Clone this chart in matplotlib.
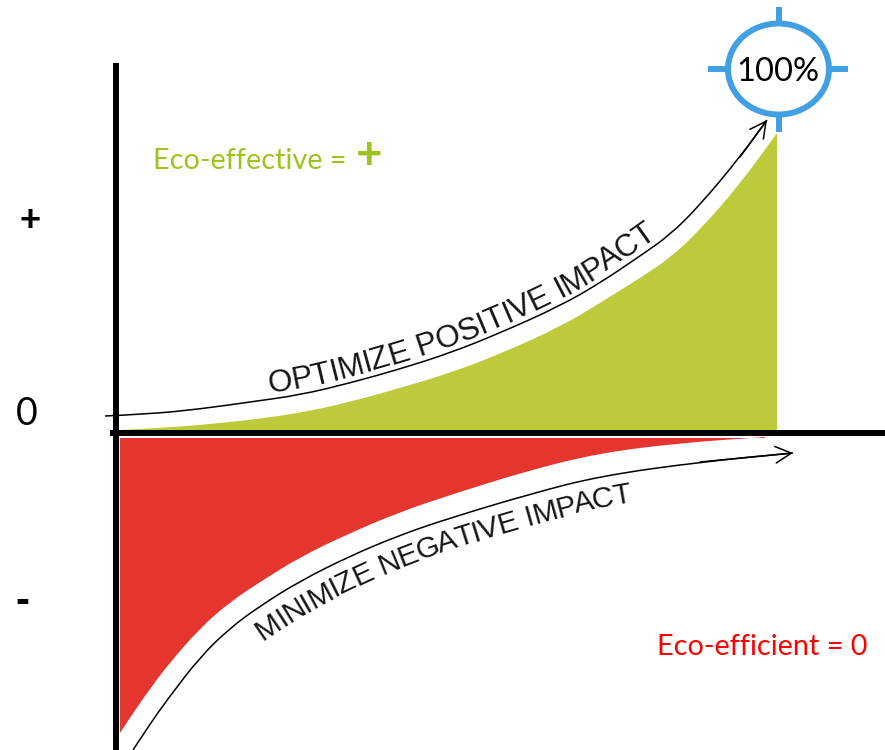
import numpy as np
import matplotlib
matplotlib.use("Agg")
import matplotlib.pyplot as plt
from matplotlib.patches import Ellipse, PathPatch
from matplotlib.path import Path
from matplotlib.font_manager import FontProperties

# curves, in pixels of the 885x750 canvas (y grows downward)
green_x = [120, 160, 200, 250, 300, 350, 400, 450, 500, 560, 600, 640, 670, 700, 740, 777]
green_top = [430, 428, 425, 420, 413, 402, 388, 373, 354, 327, 303, 278, 258, 230, 184, 133]

pos_arrow_x = [105, 150, 200, 250, 300, 350, 400, 450, 500, 560, 600, 640, 670, 700, 740, 767]
pos_arrow_y = [416, 414, 409, 402, 395, 383, 369, 353, 333, 306, 283, 256, 235, 205, 157, 120]

red_x = [120, 133, 150, 167, 200, 230, 260, 300, 350, 400, 450, 530, 600, 680, 765]
red_bottom = [733, 713, 689, 666, 628, 602, 582, 557, 533, 512, 495, 470, 453, 443, 437]

neg_arrow_x = [133, 150, 167, 200, 230, 260, 300, 350, 400, 450, 530, 600, 700, 793]
neg_arrow_y = [750, 724, 700, 657, 628, 606, 581, 556, 535, 518, 494, 476, 462, 453]

axis_labels = ["+", "0", "-"]
pos_label = "OPTIMIZE POSITIVE IMPACT"
neg_label = "MINIMIZE NEGATIVE IMPACT"
effective_label = "Eco-effective = "
efficient_label = "Eco-efficient = 0"
target_label = "100%"

GREEN = "#BDCA3C"
RED = "#E5352E"
GREEN_TEXT = "#9DC41C"
BLUE = "#41A0E4"

fig = plt.figure(figsize=(8.85, 7.5), dpi=100)
ax = fig.add_axes([0, 0, 1, 1])
ax.set_xlim(0, 885)
ax.set_ylim(750, 0)
ax.axis("off")
renderer = fig.canvas.get_renderer()


def smooth_path(xs, ys, close_to=None):
    # quadratic bezier through the midpoints, read points act as control points
    pts = list(zip(xs, ys))
    verts = [pts[0]]
    codes = [Path.MOVETO]
    for i in range(1, len(pts) - 1):
        mid = ((pts[i][0] + pts[i + 1][0]) / 2, (pts[i][1] + pts[i + 1][1]) / 2)
        verts += [pts[i], mid]
        codes += [Path.CURVE3, Path.CURVE3]
    verts.append(pts[-1])
    codes.append(Path.LINETO)
    if close_to is not None:
        for p in close_to:
            verts.append(p)
            codes.append(Path.LINETO)
        verts.append(pts[0])
        codes.append(Path.CLOSEPOLY)
    return Path(verts, codes)


# filled areas
ax.add_patch(PathPatch(smooth_path(green_x, green_top, [(green_x[-1], 430), (green_x[0], 430)]),
                       fc=GREEN, lw=0))
ax.add_patch(PathPatch(smooth_path(red_x, red_bottom, [(red_x[-1], 438), (red_x[0], 438)]),
                       fc=RED, lw=0))

# axes
ax.plot([116, 116], [63, 750], color="black", lw=4.3, solid_capstyle="butt")
ax.plot([110, 885], [433, 433], color="black", lw=4.3, solid_capstyle="butt")

# arrows
head = dict(arrowstyle="->,head_length=1.15,head_width=0.6", color="black", lw=1.1,
            mutation_scale=10, shrinkA=0, shrinkB=0)
pos_path = smooth_path(pos_arrow_x, pos_arrow_y)
neg_path = smooth_path(neg_arrow_x, neg_arrow_y)
ax.add_patch(PathPatch(pos_path, fill=False, ec="black", lw=1.1))
ax.add_patch(PathPatch(neg_path, fill=False, ec="black", lw=1.1))
ax.annotate("", xy=(pos_arrow_x[-1], pos_arrow_y[-1]), xytext=(pos_arrow_x[-2], pos_arrow_y[-2]),
            arrowprops=head)
ax.annotate("", xy=(neg_arrow_x[-1], neg_arrow_y[-1]), xytext=(neg_arrow_x[-2], neg_arrow_y[-2]),
            arrowprops=head)


def text_width(s, fp):
    if not s:
        return 0.0
    # space has the same advance as "I" in Liberation Sans
    w, h, d = renderer.get_text_width_height_descent(s.replace(" ", "I"), fp, ismath=False)
    return w


def text_along(path, text, start_x, offset, fp):
    poly = path.to_polygons(closed_only=False)[0]
    xs, ys = poly[:, 0], poly[:, 1]
    s = np.concatenate([[0], np.cumsum(np.hypot(np.diff(xs), np.diff(ys)))])
    s0 = np.interp(start_x, xs, s)

    def at(v):
        return np.interp(v, s, xs), np.interp(v, s, ys)

    for i, ch in enumerate(text):
        sc = s0 + (text_width(text[:i], fp) + text_width(text[:i + 1], fp)) / 2
        x, y = at(sc)
        x1, y1 = at(sc - 10)
        x2, y2 = at(sc + 10)
        dx, dy = x2 - x1, y2 - y1
        n = np.hypot(dx, dy)
        nx, ny = dy / n, -dx / n
        ax.text(x + offset * nx, y + offset * ny, ch, fontproperties=fp,
                rotation=np.degrees(np.arctan2(-dy, dx)), rotation_mode="anchor",
                ha="center", va="baseline", color="#151515")


text_along(pos_path, pos_label, 270, 6, FontProperties(family="Liberation Sans", size=22.5))
text_along(neg_path, neg_label, 246, -30, FontProperties(family="Liberation Sans", size=21.5))

# labels
ax.text(153, 169, effective_label, color=GREEN_TEXT, fontsize=20.8, family="Lato",
        ha="left", va="baseline")
ax.text(369, 156, "+", color=GREEN_TEXT, fontsize=33, family="Lato", fontweight="bold",
        ha="center", va="center")
ax.text(657, 655, efficient_label, color="#FF0000", fontsize=20.8, family="Lato",
        ha="left", va="baseline")

ax.text(30, 221, axis_labels[0], fontsize=26, family="Liberation Sans", fontweight="bold",
        ha="center", va="center")
ax.text(27, 425, axis_labels[1], fontsize=27, family="Lato", ha="center", va="baseline")
ax.text(22, 602, axis_labels[2], fontsize=30, family="Liberation Sans", fontweight="bold",
        ha="center", va="center")

# target mark
ax.add_patch(Ellipse((778.5, 69), 101, 91, fill=False, ec=BLUE, lw=4.3))
for xx, yy in [([778.5, 778.5], [7, 23]), ([778.5, 778.5], [115, 132]),
               ([708, 727], [69, 69]), ([830, 848], [69, 69])]:
    ax.plot(xx, yy, color=BLUE, lw=4.3, solid_capstyle="butt")
ax.text(778, 81, target_label, fontsize=23.5, family="Lato", ha="center", va="baseline")

fig.savefig("out.png", dpi=100)
